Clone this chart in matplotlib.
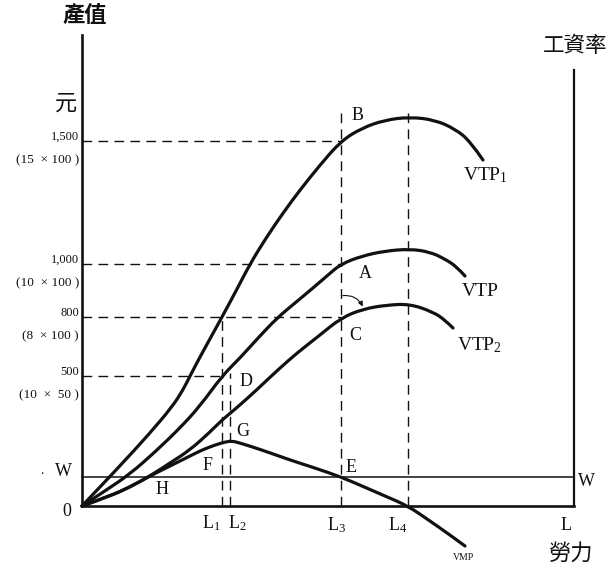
import matplotlib
matplotlib.use('Agg')
import matplotlib.pyplot as plt
from matplotlib.path import Path
from matplotlib.patches import PathPatch

# ---------------- data (schematic diagram units, origin = 0) ----------------
vtp1_x = [0, 38, 68, 90, 101, 108, 118, 129, 140, 154, 168, 184, 201, 218, 238, 259, 280, 303, 328, 353, 373, 388, 401]
vtp1_y = [0, 40, 73, 99, 116, 130, 149, 169, 189, 215, 242, 268, 293, 316, 341, 365, 378, 386, 389, 386, 377, 365, 346]

vtp_x = [0, 23, 48, 73, 98, 118, 140, 158, 176, 195, 213, 231, 246, 259, 280, 303, 328, 348, 363, 375, 383]
vtp_y = [0, 15, 32, 54, 78, 100, 130, 148, 168, 188, 203, 218, 231, 242, 250, 255, 257, 254, 247, 239, 230]

vtp2_x = [0, 28, 48, 68, 88, 108, 128, 140, 151, 168, 183, 198, 215, 238, 259, 281, 305, 328, 351, 363, 371]
vtp2_y = [0, 10, 19, 30, 43, 56, 74, 86, 95, 110, 124, 138, 153, 171, 188, 197, 201, 202, 194, 186, 178]

vmp_x = [0, 28, 48, 68, 88, 108, 120, 133, 143, 150, 158, 180, 208, 233, 259, 280, 303, 326, 348, 368, 383]
vmp_y = [0, 10, 19, 30, 40, 50, 56, 61, 64, 65, 63, 56, 46, 38, 29, 20, 10, 0, -15, -29, -40]

value_labels = ['1,500', '1,000', '800', '500']
value_notes = ['(15  × 100 )', '(10  × 100 )', '(8  × 100 )', '(10  ×  50 )']
value_levels = [365, 242, 189, 130]
value_ends = [259, 259, 259, 140]

labor_labels = ['L$_1$', 'L$_2$', 'L$_3$', 'L$_4$']
labor_x = [140, 148, 259, 326]
labor_tops = [189, 133, 399, 399]

wage_level = 29
labor_total = 492
left_axis_top = 471
right_axis_top = 436

# ---------------- style ----------------
SERIF = 'Liberation Serif'
CJK = ['Noto Sans CJK TC', 'DejaVu Sans']
plt.rcParams['mathtext.fontset'] = 'custom'
plt.rcParams['mathtext.rm'] = SERIF
plt.rcParams['mathtext.it'] = SERIF + ':italic'
INK = '#111111'

fig = plt.figure(figsize=(6.12, 5.71), dpi=100)
ax = fig.add_axes([0, 0, 1, 1])
ax.set_xlim(-82, 530)
ax.set_ylim(-65, 506)
ax.set_xticks([])
ax.set_yticks([])
ax.patch.set_alpha(0)

# axes as spines
ax.spines['top'].set_visible(False)
ax.spines['left'].set_position(('data', 0))
ax.spines['left'].set_bounds(0, left_axis_top)
ax.spines['right'].set_position(('data', labor_total))
ax.spines['right'].set_bounds(0, right_axis_top)
ax.spines['bottom'].set_position(('data', 0))
ax.spines['bottom'].set_bounds(0, labor_total)
for s in ['left', 'bottom']:
    ax.spines[s].set_linewidth(1.9)
    ax.spines[s].set_color(INK)
ax.spines['right'].set_linewidth(1.6)
ax.spines['right'].set_color(INK)

dash = dict(color=INK, lw=1.0, dashes=(7, 4.5))

# horizontal guide lines
for lev, end in zip(value_levels, value_ends):
    ax.plot([0, end], [lev, lev], **dash)
# vertical guide lines
for lx, top in zip(labor_x, labor_tops):
    ax.plot([lx, lx], [0, top], **dash)

# wage line
ax.plot([0, labor_total], [wage_level, wage_level], color=INK, lw=1.1)


def smooth_curve(xs, ys):
    """Quadratic Bezier path using the read points as control points."""
    pts = list(zip(xs, ys))
    verts = [pts[0]]
    codes = [Path.MOVETO]
    for i in range(1, len(pts) - 1):
        mid = ((pts[i][0] + pts[i + 1][0]) / 2, (pts[i][1] + pts[i + 1][1]) / 2)
        if i == len(pts) - 2:
            mid = pts[-1]
        verts += [pts[i], mid]
        codes += [Path.CURVE3, Path.CURVE3]
    return Path(verts, codes)


cw = 2.3
for xs, ys in [(vtp1_x, vtp1_y), (vtp_x, vtp_y), (vtp2_x, vtp2_y), (vmp_x, vmp_y)]:
    ax.add_patch(PathPatch(smooth_curve(xs, ys), facecolor='none', edgecolor=INK,
                           lw=cw, joinstyle='round', capstyle='round'))

# small arrow near C
ax.annotate('', xy=(282, 197), xytext=(258, 210),
            arrowprops=dict(arrowstyle='-|>', connectionstyle='arc3,rad=-0.4',
                            lw=0.8, color=INK, mutation_scale=7))

# value labels
for lab, note, lev in zip(value_labels, value_notes, value_levels):
    ax.text(-3, lev + 4, lab, ha='right', va='center', fontsize=9, family=SERIF, color=INK)
    ax.text(-3, lev - 19, note, ha='right', va='center', fontsize=9.5, family=SERIF, color=INK)

# labor labels
for lab, pos in zip(labor_labels, [(129, -17), (155, -17), (255, -19), (316, -19)]):
    ax.text(pos[0], pos[1], lab, ha='center', va='center', fontsize=13, family=SERIF, color=INK)

# point letters
for t, pos in [('H', (80, 16)), ('F', (126, 41)), ('G', (161, 74)), ('D', (164, 125)),
               ('E', (269, 39)), ('C', (273, 171)), ('A', (283, 232)), ('B', (276, 390)),
               ('W', (-19, 34)), ('W', (504, 24)), ('0', (-15, -6)), ('L', (484, -20))]:
    ax.text(pos[0], pos[1], t, ha='center', va='center', fontsize=13, family=SERIF, color=INK)
ax.text(-40, 29, '.', ha='center', va='bottom', fontsize=10, family=SERIF, color=INK)

# curve labels
ax.text(381, 331, 'VTP$_1$', ha='left', va='center', fontsize=14, family=SERIF, color=INK)
ax.text(380, 214, 'VTP', ha='left', va='center', fontsize=14, family=SERIF, color=INK)
ax.text(375, 161, 'VTP$_2$', ha='left', va='center', fontsize=14, family=SERIF, color=INK)
ax.text(382, -52, 'VMP', ha='center', va='center', fontsize=7, family=SERIF, color=INK)

# CJK labels
ax.text(3, 490, '產值', ha='center', va='center', fontsize=16, family=CJK, fontweight='bold', color=INK)
ax.text(-16, 403, '元', ha='center', va='center', fontsize=16, family=CJK, color=INK)
ax.text(493, 460, '工資率', ha='center', va='center', fontsize=15.5, family=CJK, color=INK)
ax.text(489, -47, '勞力', ha='center', va='center', fontsize=16, family=CJK, color=INK)

fig.savefig('out.png', dpi=100, facecolor='white')
